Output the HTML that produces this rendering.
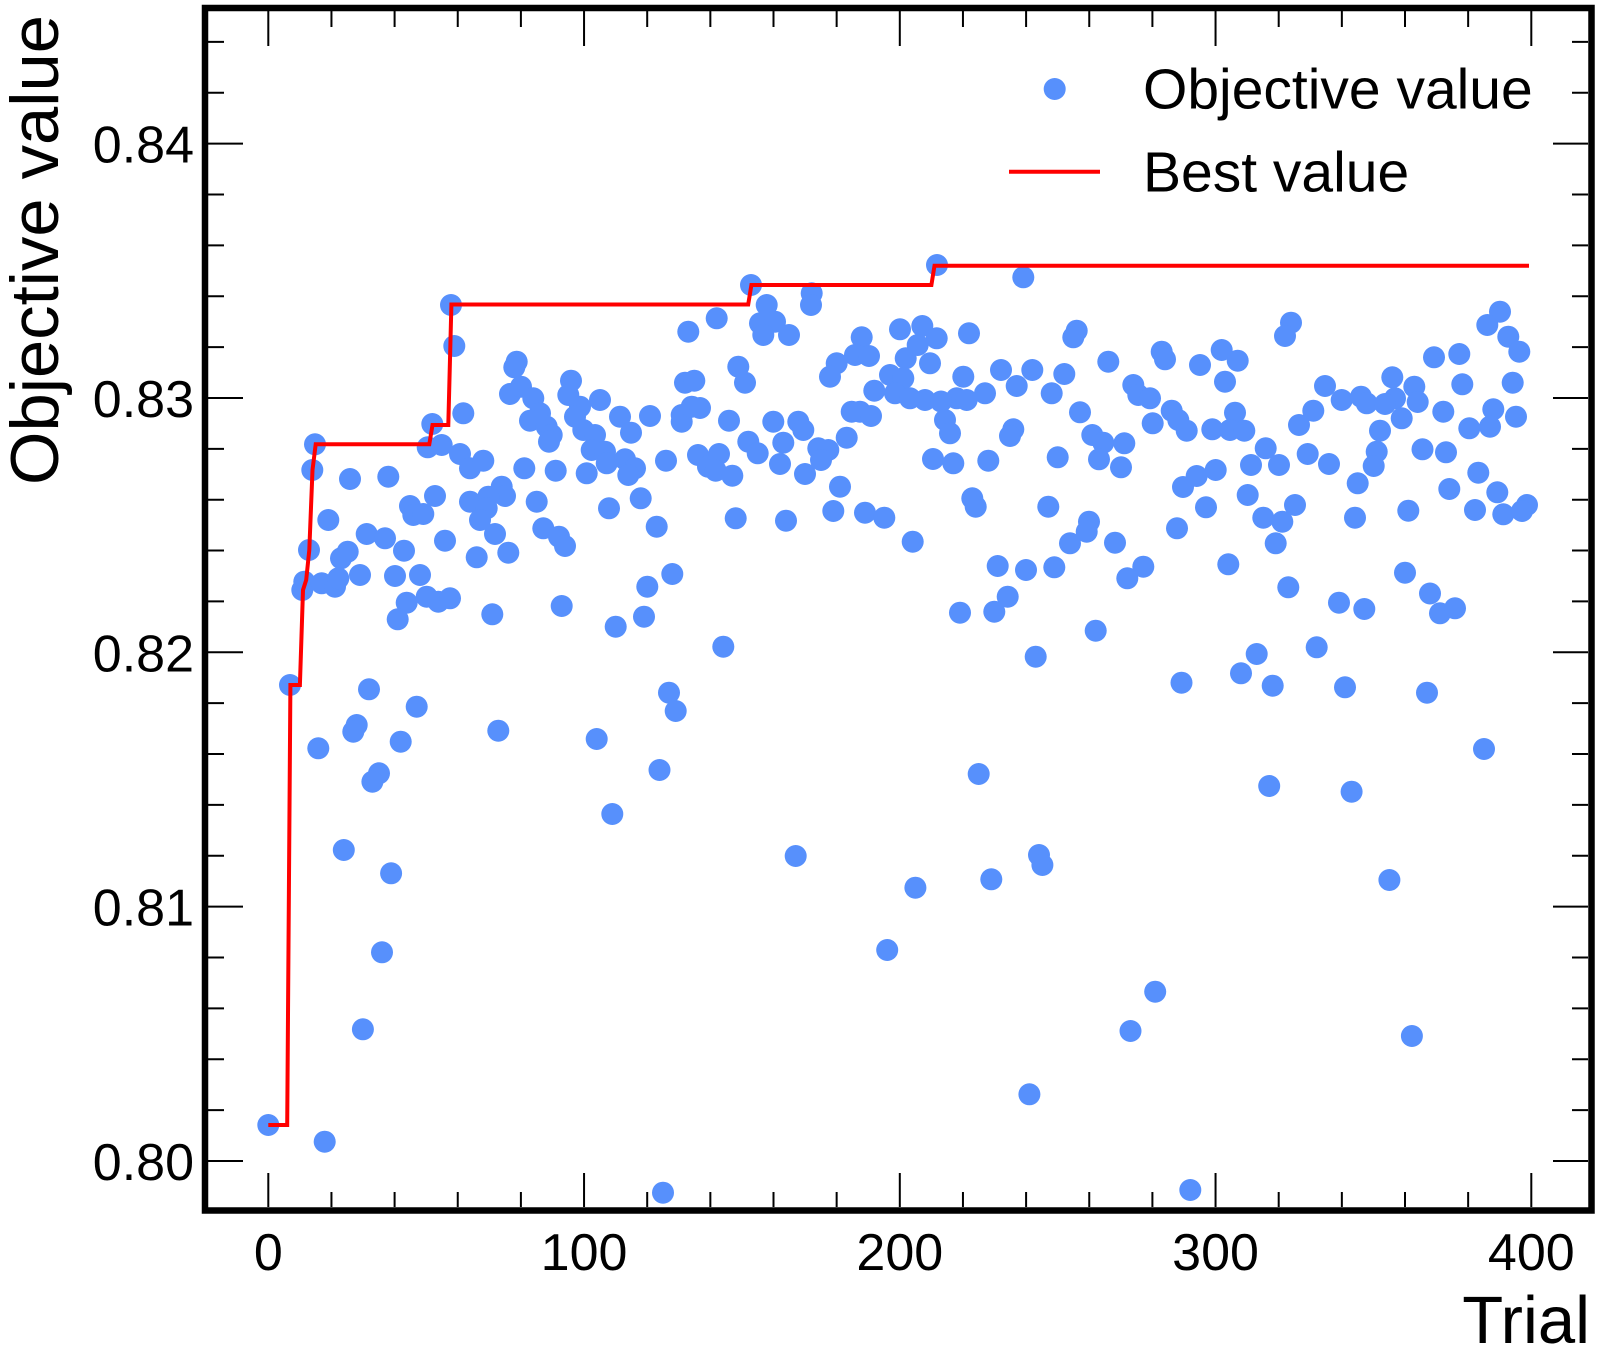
<!DOCTYPE html>
<html>
<head>
<meta charset="utf-8">
<style>
html,body{margin:0;padding:0;background:#fff;}
svg{display:block;}
text{font-family:"Liberation Sans",Arial,Helvetica,sans-serif;fill:#000;}
</style>
</head>
<body>
<svg width="1600" height="1354" viewBox="0 0 1600 1354" xmlns="http://www.w3.org/2000/svg">
<rect x="0" y="0" width="1600" height="1354" fill="#fff"/>
<g fill="#5790fc">
<circle cx="268.3" cy="1125" r="11"/>
<circle cx="324.7" cy="1141.7" r="11"/>
<circle cx="451" cy="305" r="11"/>
<circle cx="454.3" cy="346" r="11"/>
<circle cx="432.3" cy="424" r="11"/>
<circle cx="427.7" cy="447.3" r="11"/>
<circle cx="441.7" cy="445" r="11"/>
<circle cx="315" cy="444.3" r="11"/>
<circle cx="312.3" cy="470" r="11"/>
<circle cx="350" cy="479" r="11"/>
<circle cx="388.3" cy="476.7" r="11"/>
<circle cx="435" cy="496" r="11"/>
<circle cx="410" cy="506" r="11"/>
<circle cx="413.3" cy="515" r="11"/>
<circle cx="423.3" cy="514" r="11"/>
<circle cx="328.3" cy="520" r="11"/>
<circle cx="445" cy="540.7" r="11"/>
<circle cx="366.7" cy="534" r="11"/>
<circle cx="385" cy="538.3" r="11"/>
<circle cx="404" cy="550.7" r="11"/>
<circle cx="347.7" cy="551.7" r="11"/>
<circle cx="341" cy="558.3" r="11"/>
<circle cx="309" cy="550" r="11"/>
<circle cx="304.3" cy="581.7" r="11"/>
<circle cx="302.3" cy="590" r="11"/>
<circle cx="321.7" cy="583.3" r="11"/>
<circle cx="335" cy="586.7" r="11"/>
<circle cx="338.3" cy="578.3" r="11"/>
<circle cx="360" cy="575" r="11"/>
<circle cx="395" cy="576" r="11"/>
<circle cx="420" cy="575" r="11"/>
<circle cx="406.7" cy="602.7" r="11"/>
<circle cx="426.7" cy="596.7" r="11"/>
<circle cx="438.3" cy="601.7" r="11"/>
<circle cx="450" cy="598.3" r="11"/>
<circle cx="397.7" cy="619.3" r="11"/>
<circle cx="290" cy="685" r="11"/>
<circle cx="369" cy="689.3" r="11"/>
<circle cx="416.7" cy="706.7" r="11"/>
<circle cx="356.7" cy="725" r="11"/>
<circle cx="353.3" cy="731.7" r="11"/>
<circle cx="318.3" cy="748.3" r="11"/>
<circle cx="400.7" cy="741.7" r="11"/>
<circle cx="379" cy="773.3" r="11"/>
<circle cx="372.4" cy="781.7" r="11"/>
<circle cx="659.5" cy="770" r="11"/>
<circle cx="612.3" cy="814" r="11"/>
<circle cx="343.8" cy="850" r="11"/>
<circle cx="391.1" cy="873.3" r="11"/>
<circle cx="795.7" cy="856" r="11"/>
<circle cx="382" cy="952.3" r="11"/>
<circle cx="887.2" cy="950" r="11"/>
<circle cx="362.9" cy="1029.3" r="11"/>
<circle cx="663" cy="1192.7" r="11"/>
<circle cx="463.3" cy="413.3" r="11"/>
<circle cx="460" cy="454" r="11"/>
<circle cx="470" cy="468.3" r="11"/>
<circle cx="483.3" cy="460.7" r="11"/>
<circle cx="470" cy="501.7" r="11"/>
<circle cx="688.3" cy="331.7" r="11"/>
<circle cx="516.7" cy="361.7" r="11"/>
<circle cx="514.3" cy="367.3" r="11"/>
<circle cx="510" cy="394" r="11"/>
<circle cx="521" cy="386.7" r="11"/>
<circle cx="533.3" cy="398.3" r="11"/>
<circle cx="540" cy="413.3" r="11"/>
<circle cx="530" cy="420.7" r="11"/>
<circle cx="546.7" cy="426.7" r="11"/>
<circle cx="551.7" cy="435" r="11"/>
<circle cx="549" cy="441.7" r="11"/>
<circle cx="571" cy="380.7" r="11"/>
<circle cx="568.3" cy="395" r="11"/>
<circle cx="580" cy="406.7" r="11"/>
<circle cx="575" cy="416.7" r="11"/>
<circle cx="583.3" cy="430" r="11"/>
<circle cx="595" cy="435" r="11"/>
<circle cx="600" cy="400" r="11"/>
<circle cx="591.7" cy="450" r="11"/>
<circle cx="605" cy="451.7" r="11"/>
<circle cx="606.7" cy="463.3" r="11"/>
<circle cx="586.7" cy="473.3" r="11"/>
<circle cx="620" cy="416.7" r="11"/>
<circle cx="631" cy="432.7" r="11"/>
<circle cx="625" cy="459.3" r="11"/>
<circle cx="635" cy="468.3" r="11"/>
<circle cx="628.3" cy="475" r="11"/>
<circle cx="650" cy="416" r="11"/>
<circle cx="666" cy="460.7" r="11"/>
<circle cx="681.7" cy="415" r="11"/>
<circle cx="681.7" cy="421.7" r="11"/>
<circle cx="685" cy="382.7" r="11"/>
<circle cx="694.3" cy="380.7" r="11"/>
<circle cx="691.7" cy="406.7" r="11"/>
<circle cx="700" cy="408" r="11"/>
<circle cx="698" cy="455" r="11"/>
<circle cx="708" cy="466.7" r="11"/>
<circle cx="524.3" cy="468.3" r="11"/>
<circle cx="555.7" cy="470.7" r="11"/>
<circle cx="501.7" cy="486.7" r="11"/>
<circle cx="505" cy="496" r="11"/>
<circle cx="488.3" cy="496.7" r="11"/>
<circle cx="486.7" cy="508.3" r="11"/>
<circle cx="480" cy="520" r="11"/>
<circle cx="495" cy="534" r="11"/>
<circle cx="536.7" cy="501.7" r="11"/>
<circle cx="543.3" cy="528.3" r="11"/>
<circle cx="559" cy="536.7" r="11"/>
<circle cx="565" cy="546" r="11"/>
<circle cx="476.7" cy="557.3" r="11"/>
<circle cx="508.3" cy="552.7" r="11"/>
<circle cx="609" cy="508.3" r="11"/>
<circle cx="640.7" cy="498.3" r="11"/>
<circle cx="656.7" cy="526.7" r="11"/>
<circle cx="672.3" cy="574" r="11"/>
<circle cx="647.3" cy="586.7" r="11"/>
<circle cx="644" cy="616.7" r="11"/>
<circle cx="615.7" cy="626.7" r="11"/>
<circle cx="561.7" cy="606" r="11"/>
<circle cx="492.3" cy="614.3" r="11"/>
<circle cx="669" cy="692.7" r="11"/>
<circle cx="675.7" cy="711" r="11"/>
<circle cx="498.3" cy="730.7" r="11"/>
<circle cx="596.7" cy="739" r="11"/>
<circle cx="751" cy="285" r="11"/>
<circle cx="716.7" cy="318.3" r="11"/>
<circle cx="766.7" cy="305" r="11"/>
<circle cx="811.7" cy="293.3" r="11"/>
<circle cx="811" cy="305" r="11"/>
<circle cx="760" cy="323.3" r="11"/>
<circle cx="775" cy="321.7" r="11"/>
<circle cx="763.3" cy="335" r="11"/>
<circle cx="789" cy="335" r="11"/>
<circle cx="738.3" cy="366.7" r="11"/>
<circle cx="745" cy="382.7" r="11"/>
<circle cx="861.7" cy="337.3" r="11"/>
<circle cx="855" cy="355" r="11"/>
<circle cx="869" cy="356" r="11"/>
<circle cx="836.7" cy="363.3" r="11"/>
<circle cx="830" cy="376.7" r="11"/>
<circle cx="900" cy="329.3" r="11"/>
<circle cx="922.3" cy="326" r="11"/>
<circle cx="936.7" cy="338.3" r="11"/>
<circle cx="917.7" cy="345" r="11"/>
<circle cx="905.7" cy="358.3" r="11"/>
<circle cx="930" cy="363.3" r="11"/>
<circle cx="890" cy="375" r="11"/>
<circle cx="903.3" cy="378.3" r="11"/>
<circle cx="874.3" cy="390.7" r="11"/>
<circle cx="895" cy="393.3" r="11"/>
<circle cx="910" cy="398.3" r="11"/>
<circle cx="925" cy="400" r="11"/>
<circle cx="729" cy="420.7" r="11"/>
<circle cx="773.3" cy="421.7" r="11"/>
<circle cx="798.3" cy="421.7" r="11"/>
<circle cx="803.3" cy="430" r="11"/>
<circle cx="783.3" cy="442.7" r="11"/>
<circle cx="748.3" cy="441.7" r="11"/>
<circle cx="757.7" cy="453.3" r="11"/>
<circle cx="780" cy="464" r="11"/>
<circle cx="818.3" cy="448.3" r="11"/>
<circle cx="828.3" cy="450" r="11"/>
<circle cx="821" cy="460" r="11"/>
<circle cx="805" cy="474" r="11"/>
<circle cx="851.7" cy="411.7" r="11"/>
<circle cx="860" cy="411.7" r="11"/>
<circle cx="871" cy="416" r="11"/>
<circle cx="846.7" cy="437.7" r="11"/>
<circle cx="719" cy="454" r="11"/>
<circle cx="715.7" cy="470.7" r="11"/>
<circle cx="732.3" cy="475.7" r="11"/>
<circle cx="840" cy="486.7" r="11"/>
<circle cx="735.7" cy="518.3" r="11"/>
<circle cx="786" cy="520.7" r="11"/>
<circle cx="833.3" cy="511" r="11"/>
<circle cx="865" cy="512.7" r="11"/>
<circle cx="884.3" cy="517.7" r="11"/>
<circle cx="912.7" cy="541.7" r="11"/>
<circle cx="933" cy="459" r="11"/>
<circle cx="937" cy="265" r="11"/>
<circle cx="723.3" cy="646.7" r="11"/>
<circle cx="1023.3" cy="277.3" r="11"/>
<circle cx="969" cy="333.3" r="11"/>
<circle cx="1076.7" cy="330.7" r="11"/>
<circle cx="1073.3" cy="337.3" r="11"/>
<circle cx="1108.3" cy="361.7" r="11"/>
<circle cx="1161.7" cy="351.7" r="11"/>
<circle cx="1165" cy="359.3" r="11"/>
<circle cx="963.3" cy="376.7" r="11"/>
<circle cx="1001" cy="370" r="11"/>
<circle cx="1032.3" cy="370" r="11"/>
<circle cx="1016.7" cy="386" r="11"/>
<circle cx="1064.3" cy="374" r="11"/>
<circle cx="1051.7" cy="393.3" r="11"/>
<circle cx="985" cy="393.3" r="11"/>
<circle cx="956.7" cy="398.3" r="11"/>
<circle cx="966.7" cy="400" r="11"/>
<circle cx="941" cy="401.5" r="11"/>
<circle cx="945" cy="420" r="11"/>
<circle cx="950" cy="433.3" r="11"/>
<circle cx="1080" cy="412.3" r="11"/>
<circle cx="1133.3" cy="385" r="11"/>
<circle cx="1138.3" cy="395" r="11"/>
<circle cx="1150" cy="398.3" r="11"/>
<circle cx="1171.7" cy="410.7" r="11"/>
<circle cx="1178.3" cy="420" r="11"/>
<circle cx="1186.7" cy="430.7" r="11"/>
<circle cx="1152.7" cy="423.3" r="11"/>
<circle cx="1013.3" cy="429.3" r="11"/>
<circle cx="1010" cy="436" r="11"/>
<circle cx="1092.3" cy="435" r="11"/>
<circle cx="1103.3" cy="442.7" r="11"/>
<circle cx="1124.3" cy="443.3" r="11"/>
<circle cx="1099" cy="459.3" r="11"/>
<circle cx="1121" cy="467.3" r="11"/>
<circle cx="1057.7" cy="457.3" r="11"/>
<circle cx="988.3" cy="460.7" r="11"/>
<circle cx="953.3" cy="463.3" r="11"/>
<circle cx="972.3" cy="498.3" r="11"/>
<circle cx="975.7" cy="506.7" r="11"/>
<circle cx="1048.3" cy="506.7" r="11"/>
<circle cx="1089" cy="521.7" r="11"/>
<circle cx="1086.7" cy="531.7" r="11"/>
<circle cx="1070" cy="543.3" r="11"/>
<circle cx="1115" cy="542.7" r="11"/>
<circle cx="1183" cy="487" r="11"/>
<circle cx="1177" cy="528.3" r="11"/>
<circle cx="997.7" cy="566" r="11"/>
<circle cx="1026" cy="570" r="11"/>
<circle cx="1054.3" cy="567.3" r="11"/>
<circle cx="1143.3" cy="566.7" r="11"/>
<circle cx="1127.3" cy="578.3" r="11"/>
<circle cx="1007.7" cy="596.7" r="11"/>
<circle cx="994.3" cy="611.7" r="11"/>
<circle cx="960" cy="612.7" r="11"/>
<circle cx="1095.7" cy="630.7" r="11"/>
<circle cx="1035.7" cy="656.7" r="11"/>
<circle cx="1181.5" cy="682.7" r="11"/>
<circle cx="978.7" cy="774" r="11"/>
<circle cx="1269.2" cy="786" r="11"/>
<circle cx="1351.6" cy="791.7" r="11"/>
<circle cx="915.4" cy="887.7" r="11"/>
<circle cx="991.3" cy="879.3" r="11"/>
<circle cx="1039" cy="855" r="11"/>
<circle cx="1042.4" cy="865" r="11"/>
<circle cx="1389.4" cy="880" r="11"/>
<circle cx="1155.2" cy="991.7" r="11"/>
<circle cx="1130.5" cy="1031" r="11"/>
<circle cx="1411.9" cy="1036" r="11"/>
<circle cx="1029.4" cy="1094.3" r="11"/>
<circle cx="1190.3" cy="1190" r="11"/>
<circle cx="1291" cy="322.7" r="11"/>
<circle cx="1285" cy="336" r="11"/>
<circle cx="1221.7" cy="350" r="11"/>
<circle cx="1237.7" cy="360.7" r="11"/>
<circle cx="1200" cy="365" r="11"/>
<circle cx="1225" cy="381.7" r="11"/>
<circle cx="1235" cy="412.7" r="11"/>
<circle cx="1212.3" cy="429.3" r="11"/>
<circle cx="1230" cy="430" r="11"/>
<circle cx="1244.3" cy="430.7" r="11"/>
<circle cx="1325" cy="386" r="11"/>
<circle cx="1341.7" cy="400" r="11"/>
<circle cx="1361" cy="396.7" r="11"/>
<circle cx="1366.7" cy="403.3" r="11"/>
<circle cx="1392.3" cy="377.3" r="11"/>
<circle cx="1395" cy="398.3" r="11"/>
<circle cx="1385" cy="404" r="11"/>
<circle cx="1414.3" cy="386.7" r="11"/>
<circle cx="1417.7" cy="402" r="11"/>
<circle cx="1401.7" cy="418.3" r="11"/>
<circle cx="1313.3" cy="410.7" r="11"/>
<circle cx="1299" cy="425" r="11"/>
<circle cx="1380" cy="430.7" r="11"/>
<circle cx="1376.7" cy="451.7" r="11"/>
<circle cx="1373.7" cy="466" r="11"/>
<circle cx="1422.5" cy="449.3" r="11"/>
<circle cx="1307.7" cy="454" r="11"/>
<circle cx="1329" cy="464" r="11"/>
<circle cx="1265.7" cy="448.3" r="11"/>
<circle cx="1279" cy="465" r="11"/>
<circle cx="1251" cy="465" r="11"/>
<circle cx="1215.7" cy="470" r="11"/>
<circle cx="1196.7" cy="476" r="11"/>
<circle cx="1357.7" cy="483.3" r="11"/>
<circle cx="1247.7" cy="495" r="11"/>
<circle cx="1206" cy="507.3" r="11"/>
<circle cx="1295" cy="505" r="11"/>
<circle cx="1263.3" cy="517.7" r="11"/>
<circle cx="1282.3" cy="521.7" r="11"/>
<circle cx="1275.7" cy="543.3" r="11"/>
<circle cx="1355" cy="517.7" r="11"/>
<circle cx="1408.3" cy="510.7" r="11"/>
<circle cx="1228.3" cy="564.3" r="11"/>
<circle cx="1288.3" cy="587.3" r="11"/>
<circle cx="1339" cy="602.7" r="11"/>
<circle cx="1364.3" cy="609" r="11"/>
<circle cx="1405" cy="572.7" r="11"/>
<circle cx="1430" cy="593.5" r="11"/>
<circle cx="1316.7" cy="647.3" r="11"/>
<circle cx="1256.7" cy="654" r="11"/>
<circle cx="1241" cy="673.3" r="11"/>
<circle cx="1272.7" cy="685.7" r="11"/>
<circle cx="1345" cy="687.3" r="11"/>
<circle cx="1427" cy="692.7" r="11"/>
<circle cx="1500" cy="311.7" r="11"/>
<circle cx="1487.3" cy="325" r="11"/>
<circle cx="1508.3" cy="336.7" r="11"/>
<circle cx="1519.3" cy="351.7" r="11"/>
<circle cx="1434" cy="357.3" r="11"/>
<circle cx="1459.3" cy="354" r="11"/>
<circle cx="1462.3" cy="384.3" r="11"/>
<circle cx="1512.7" cy="382.7" r="11"/>
<circle cx="1443.3" cy="411.7" r="11"/>
<circle cx="1493.3" cy="409.3" r="11"/>
<circle cx="1516" cy="416.7" r="11"/>
<circle cx="1469.3" cy="428.3" r="11"/>
<circle cx="1490" cy="426.7" r="11"/>
<circle cx="1446" cy="452.3" r="11"/>
<circle cx="1478.3" cy="472.7" r="11"/>
<circle cx="1449.3" cy="489" r="11"/>
<circle cx="1497.3" cy="492.3" r="11"/>
<circle cx="1475" cy="510" r="11"/>
<circle cx="1503.3" cy="514.3" r="11"/>
<circle cx="1527" cy="505" r="11"/>
<circle cx="1522" cy="511" r="11"/>
<circle cx="1440" cy="613.3" r="11"/>
<circle cx="1455" cy="608.3" r="11"/>
<circle cx="1484" cy="749" r="11"/>
</g>
<path d="M268.3 1125 L287.2 1125 L290.4 685 L299.9 685 L303 590 L306.2 580 L309.3 550 L312.5 470 L315.7 444.3 L429.3 444.3 L432.5 425 L448.3 425 L451.4 304.5 L748.2 304.5 L751.4 285 L931.4 285 L934.5 265.7 L1529 265.7" fill="none" stroke="#ff0000" stroke-width="4"/>
<path fill="none" stroke="#000" stroke-width="2" d="M268.3 1207V1173 M584.05 1207V1173 M899.8 1207V1173 M1215.55 1207V1173 M1531.3 1207V1173 M331.45 1207V1192 M394.6 1207V1192 M457.75 1207V1192 M520.9 1207V1192 M647.2 1207V1192 M710.35 1207V1192 M773.5 1207V1192 M836.65 1207V1192 M962.95 1207V1192 M1026.1 1207V1192 M1089.25 1207V1192 M1152.4 1207V1192 M1278.7 1207V1192 M1341.85 1207V1192 M1405 1207V1192 M1468.15 1207V1192 M268.3 11V46 M584.05 11V46 M899.8 11V46 M1215.55 11V46 M1531.3 11V46 M331.45 11V27 M394.6 11V27 M457.75 11V27 M520.9 11V27 M647.2 11V27 M710.35 11V27 M773.5 11V27 M836.65 11V27 M962.95 11V27 M1026.1 11V27 M1089.25 11V27 M1152.4 11V27 M1278.7 11V27 M1341.85 11V27 M1405 11V27 M1468.15 11V27 M208 1161H243 M208 906.65H243 M208 652.3H243 M208 397.95H243 M208 143.6H243 M208 1110.13H224 M208 1059.26H224 M208 1008.39H224 M208 957.52H224 M208 855.78H224 M208 804.91H224 M208 754.04H224 M208 703.17H224 M208 601.43H224 M208 550.56H224 M208 499.69H224 M208 448.82H224 M208 347.08H224 M208 296.21H224 M208 245.34H224 M208 194.47H224 M208 92.73H224 M208 41.86H224 M1588 1161H1553 M1588 906.65H1553 M1588 652.3H1553 M1588 397.95H1553 M1588 143.6H1553 M1588 1110.13H1572 M1588 1059.26H1572 M1588 1008.39H1572 M1588 957.52H1572 M1588 855.78H1572 M1588 804.91H1572 M1588 754.04H1572 M1588 703.17H1572 M1588 601.43H1572 M1588 550.56H1572 M1588 499.69H1572 M1588 448.82H1572 M1588 347.08H1572 M1588 296.21H1572 M1588 245.34H1572 M1588 194.47H1572 M1588 92.73H1572 M1588 41.86H1572"/>
<rect x="205" y="8" width="1386.5" height="1202.5" fill="none" stroke="#000" stroke-width="6.5"/>
<g font-size="52" text-anchor="end">
<text x="194" y="1180">0.80</text>
<text x="194" y="925.6">0.81</text>
<text x="194" y="671.3">0.82</text>
<text x="194" y="417">0.83</text>
<text x="194" y="162.6">0.84</text>
</g>
<g font-size="52" text-anchor="middle">
<text x="268.3" y="1270">0</text>
<text x="584.05" y="1270">100</text>
<text x="899.8" y="1270">200</text>
<text x="1215.55" y="1270">300</text>
<text x="1531.3" y="1270">400</text>
</g>
<text x="1590" y="1343" font-size="67" text-anchor="end">Trial</text>
<text transform="translate(58,15) rotate(-90)" font-size="68" text-anchor="end" textLength="470" lengthAdjust="spacingAndGlyphs">Objective value</text>
<circle cx="1054.7" cy="89" r="11" fill="#5790fc"/>
<line x1="1009" y1="171.7" x2="1100" y2="171.7" stroke="#ff0000" stroke-width="4"/>
<text x="1143" y="108.5" font-size="57">Objective value</text>
<text x="1143" y="191.7" font-size="57">Best value</text>
</svg>
</body>
</html>
